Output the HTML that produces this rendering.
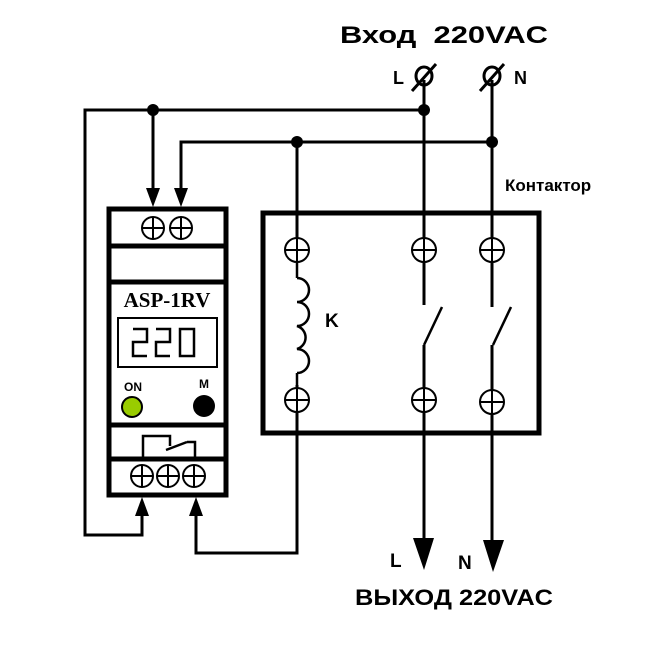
<!DOCTYPE html>
<html><head><meta charset="utf-8"><style>html,body{margin:0;padding:0;background:#fff}</style></head>
<body>
<svg width="666" height="655" viewBox="0 0 666 655" xmlns="http://www.w3.org/2000/svg" font-family="Liberation Sans, sans-serif">
<rect width="666" height="655" fill="#fff"/>
<g stroke="#000" stroke-width="3" fill="none">
<line x1="424" y1="80" x2="424" y2="540"/>
<line x1="492" y1="80" x2="492" y2="542"/>
<polyline points="424,110 85,110 85,535 142,535 142,512"/>
<line x1="153" y1="110" x2="153" y2="190"/>
<polyline points="492,142 181,142 181,190"/>
<polyline points="297,142 297,553 196,553 196,512"/>
<ellipse cx="424" cy="76" rx="8" ry="9"/>
<ellipse cx="492" cy="76" rx="8" ry="9"/>
<line x1="412" y1="91" x2="436" y2="64"/>
<line x1="480" y1="91" x2="504" y2="64"/>
</g>
<g fill="#000">
<circle cx="424" cy="110" r="6"/><circle cx="153" cy="110" r="6"/>
<circle cx="492" cy="142" r="6"/><circle cx="297" cy="142" r="6"/>
<polygon points="146,188 160,188 153,207"/><polygon points="174,188 188,188 181,207"/>
<polygon points="135,516 149,516 142,497"/><polygon points="189,516 203,516 196,497"/>
<polygon points="413,538 434,538 424,570"/><polygon points="483,540 504,540 493,572"/>
</g>
<g stroke="#000" fill="none">
<rect x="109" y="209" width="117" height="286" stroke-width="5" fill="#fff"/>
<line x1="109" y1="246" x2="226" y2="246" stroke-width="5"/>
<line x1="109" y1="282" x2="226" y2="282" stroke-width="5"/>
<line x1="109" y1="425" x2="226" y2="425" stroke-width="5"/>
<line x1="109" y1="459" x2="226" y2="459" stroke-width="5"/>
<rect x="118" y="318" width="99" height="49" stroke-width="2"/>
<polyline points="143,459 143,436 170,436 170,446" stroke-width="2.5"/>
<line x1="166" y1="450" x2="187" y2="442" stroke-width="2.5"/>
<polyline points="187,442 195,442 195,459" stroke-width="2.5"/>
<polyline points="133,329 147,329 147,342 133,342 133,356 147,356" stroke-width="2.5"/>
<polyline points="156,329 170,329 170,342 156,342 156,356 170,356" stroke-width="2.5"/>
<rect x="180" y="329" width="14" height="27" stroke-width="2.5"/>
<g stroke-width="2">
<circle cx="153" cy="228" r="11"/><line x1="142" y1="228" x2="164" y2="228"/><line x1="153" y1="217" x2="153" y2="239"/>
<circle cx="181" cy="228" r="11"/><line x1="170" y1="228" x2="192" y2="228"/><line x1="181" y1="217" x2="181" y2="239"/>
<circle cx="142" cy="476" r="11"/><line x1="131" y1="476" x2="153" y2="476"/><line x1="142" y1="465" x2="142" y2="487"/>
<circle cx="168" cy="476" r="11"/><line x1="157" y1="476" x2="179" y2="476"/><line x1="168" y1="465" x2="168" y2="487"/>
<circle cx="194" cy="476" r="11"/><line x1="183" y1="476" x2="205" y2="476"/><line x1="194" y1="465" x2="194" y2="487"/>
</g>
</g>
<circle cx="132" cy="407" r="10" fill="#99cc00" stroke="#000" stroke-width="2"/>
<circle cx="204" cy="406" r="11" fill="#000"/>
<text x="167" y="307" font-family="Liberation Serif, serif" font-weight="bold" font-size="21" text-anchor="middle">ASP-1RV</text>
<text x="133" y="391" font-size="12" font-weight="bold" text-anchor="middle">ON</text>
<text x="204" y="388" font-size="12" font-weight="bold" text-anchor="middle">M</text>
<g stroke="#000" fill="none">
<rect x="263" y="213" width="276" height="220" stroke-width="5"/>
</g>
<g fill="#fff">
<rect x="420" y="305" width="8" height="40"/>
<rect x="488" y="307" width="8" height="38"/>
</g>
<g stroke="#000" stroke-width="2.5" fill="none">
<line x1="424" y1="345" x2="442" y2="307"/>
<line x1="493" y1="345" x2="511" y2="307"/>
<rect x="290" y="262" width="14" height="123" fill="#fff" stroke="none"/>
<line x1="297" y1="262" x2="297" y2="278"/>
<line x1="297" y1="373" x2="297" y2="388"/>
<path d="M297,278 a12,12 0 0 1 0,24 a12,12 0 0 1 0,24 a12,12 0 0 1 0,23 a12,12 0 0 1 0,24"/>
<g stroke-width="2">
<circle cx="297" cy="250" r="12" fill="#fff"/><line x1="285" y1="250" x2="309" y2="250"/><line x1="297" y1="238" x2="297" y2="262"/>
<circle cx="424" cy="250" r="12" fill="#fff"/><line x1="412" y1="250" x2="436" y2="250"/><line x1="424" y1="238" x2="424" y2="262"/>
<circle cx="492" cy="250" r="12" fill="#fff"/><line x1="480" y1="250" x2="504" y2="250"/><line x1="492" y1="238" x2="492" y2="262"/>
<circle cx="297" cy="400" r="12" fill="#fff"/><line x1="285" y1="400" x2="309" y2="400"/><line x1="297" y1="388" x2="297" y2="412"/>
<circle cx="424" cy="400" r="12" fill="#fff"/><line x1="412" y1="400" x2="436" y2="400"/><line x1="424" y1="388" x2="424" y2="412"/>
<circle cx="492" cy="402" r="12" fill="#fff"/><line x1="480" y1="402" x2="504" y2="402"/><line x1="492" y1="390" x2="492" y2="414"/>
</g>
</g>
<g font-weight="bold" fill="#000">
<text x="340" y="43" font-size="24" textLength="208" lengthAdjust="spacingAndGlyphs" xml:space="preserve">Вход  220VAC</text>
<text x="393" y="84" font-size="18">L</text>
<text x="514" y="84" font-size="18">N</text>
<text x="505" y="191" font-size="17">Контактор</text>
<text x="325" y="327" font-size="19">K</text>
<text x="390" y="567" font-size="19">L</text>
<text x="458" y="569" font-size="19">N</text>
<text x="355" y="605" font-size="22" textLength="198" lengthAdjust="spacingAndGlyphs">ВЫХОД 220VAC</text>
</g>
</svg>
</body></html>
